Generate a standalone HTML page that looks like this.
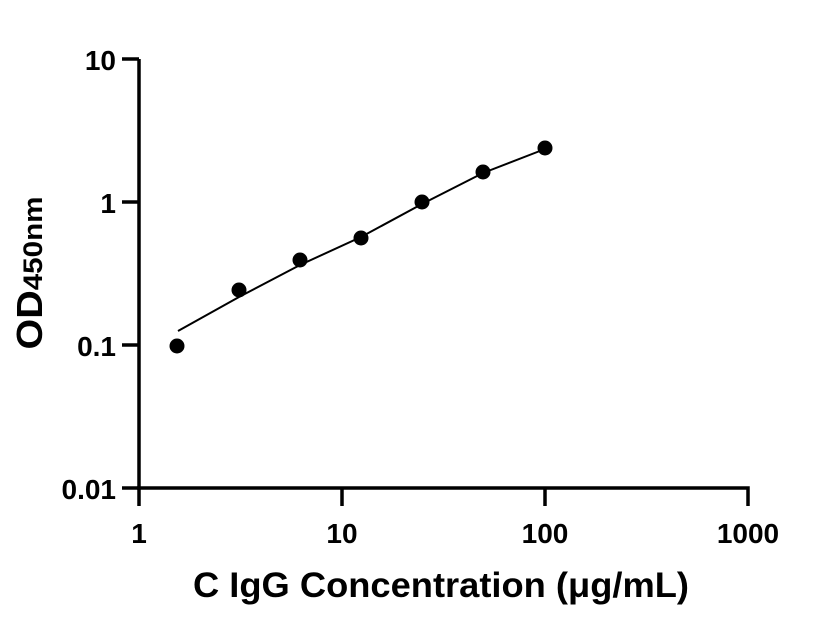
<!DOCTYPE html>
<html><head><style>body{margin:0;background:#fff}svg{display:block}</style></head><body>
<svg width="816" height="640" xmlns="http://www.w3.org/2000/svg" font-family="'Liberation Sans',sans-serif" font-weight="bold">
<g stroke="#000" stroke-width="3.5" fill="none">
<path d="M139 59 V506"/>
<path d="M137 488 H748 V506"/>
<path d="M122 59 H139 M122 202 H139 M122 345 H139 M122 488 H139"/>
<path d="M342 488 V506 M545 488 V506"/>
</g>
<path d="M178 331 L239 297 L300 265 L361 237 L422 204 L483 173 L545 149" stroke="#000" stroke-width="2" fill="none"/>
<g fill="#000">
<circle cx="177" cy="346" r="7.5"/><circle cx="239" cy="290" r="7.5"/><circle cx="300" cy="260" r="7.5"/>
<circle cx="361" cy="238" r="7.5"/><circle cx="422" cy="202" r="7.5"/><circle cx="483" cy="172" r="7.5"/>
<circle cx="545" cy="148" r="7.5"/>
</g>
<g font-size="28" text-anchor="end">
<text x="116" y="70">10</text><text x="116" y="213">1</text><text x="116" y="356">0.1</text><text x="116" y="499">0.01</text>
</g>
<g font-size="28" text-anchor="middle">
<text x="139" y="543">1</text><text x="342" y="543">10</text><text x="545" y="543">100</text><text x="748" y="543">1000</text>
</g>
<text x="441" y="597" font-size="35" text-anchor="middle" textLength="496" lengthAdjust="spacingAndGlyphs">C IgG Concentration (μg/mL)</text>
<text transform="translate(42,273) rotate(-90)" font-size="36" text-anchor="middle" textLength="153" lengthAdjust="spacingAndGlyphs">OD<tspan font-size="27">450nm</tspan></text>
</svg>
</body></html>
